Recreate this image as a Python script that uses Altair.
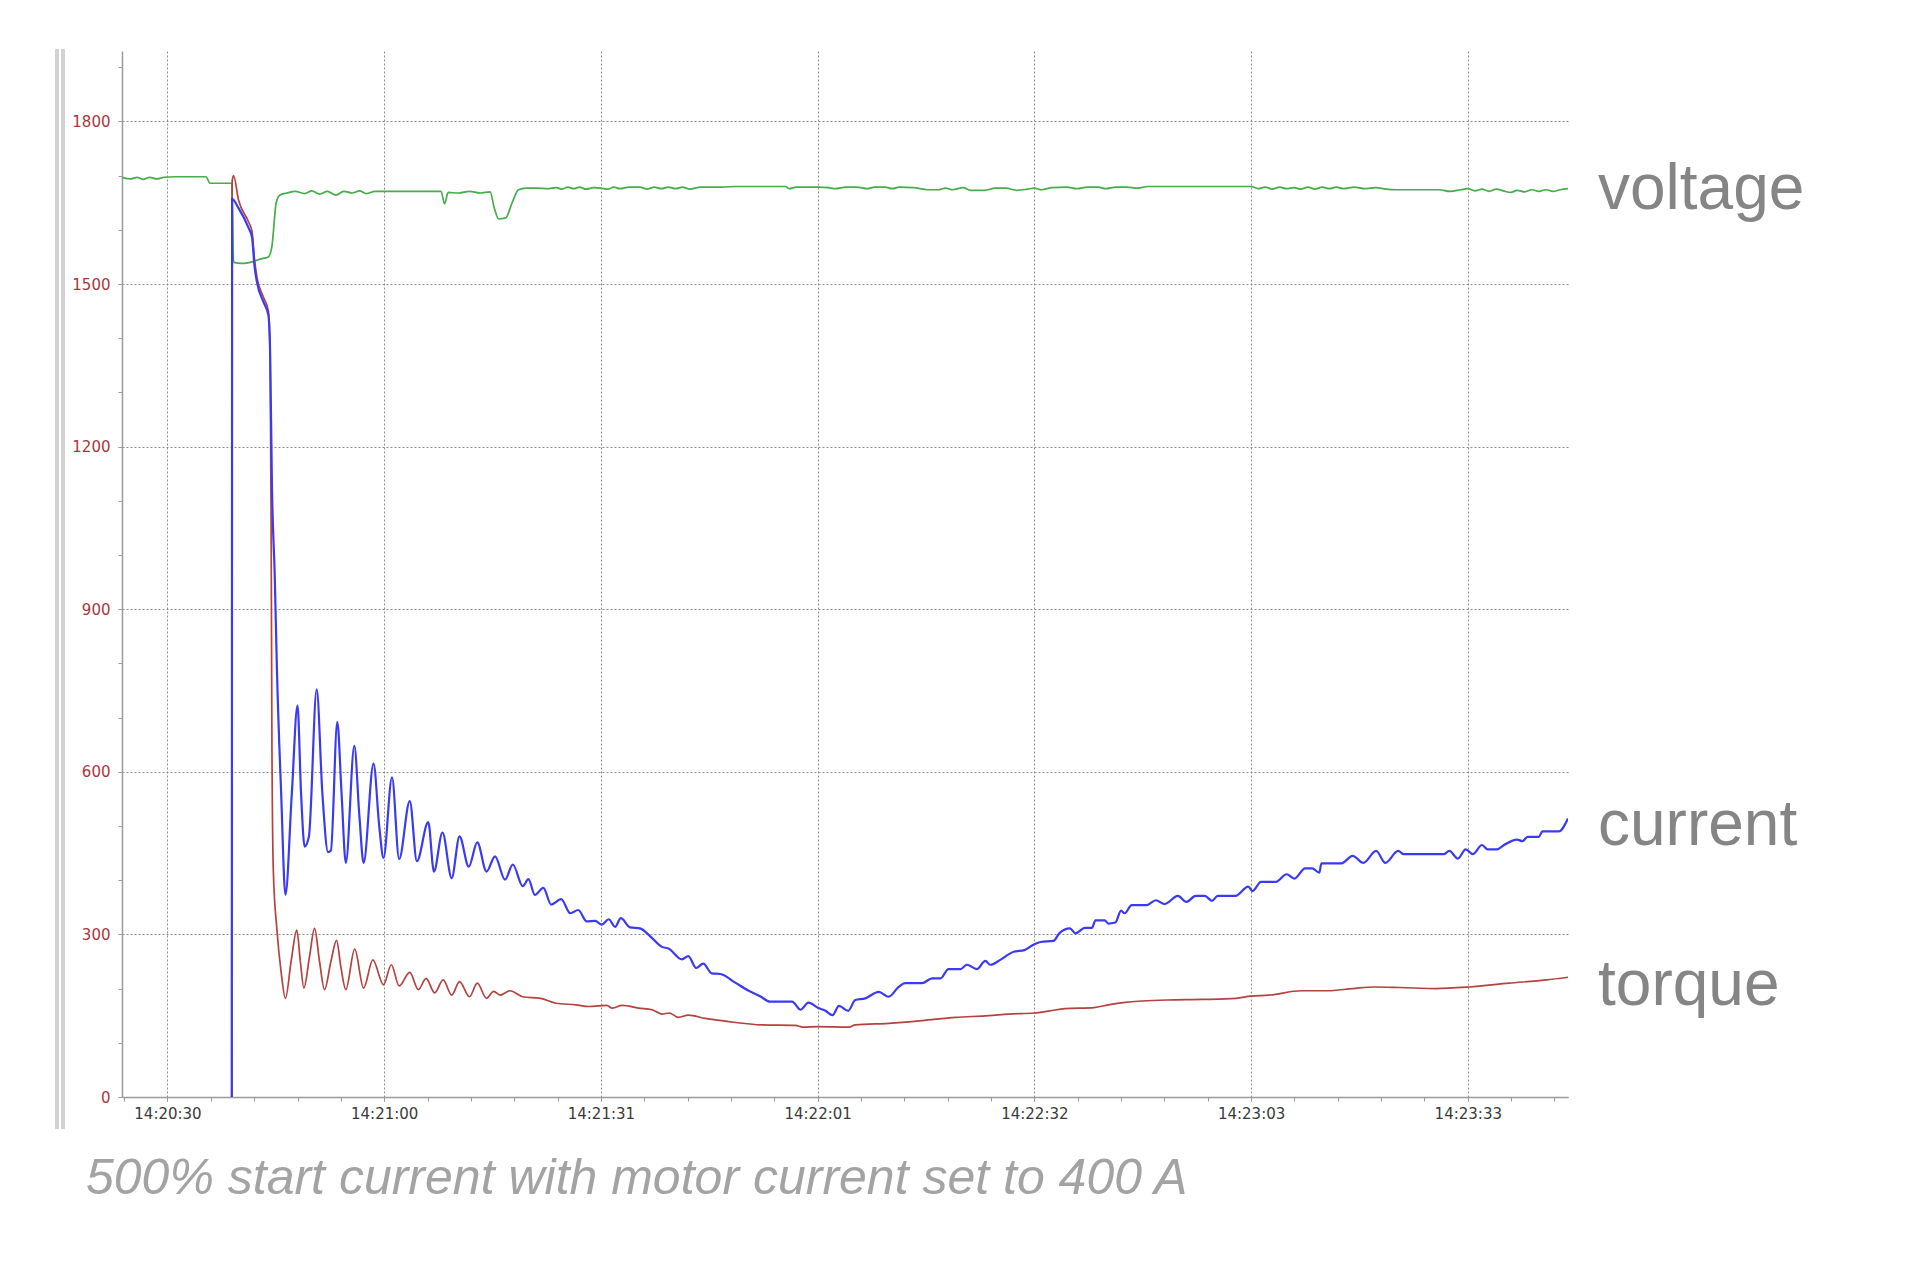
import altair as alt
import pandas as pd

# ---- data (time in seconds after 14:20:30) ----
voltage_t = [-6.4, -5.2, -4.3, -3.4, -2.5, -1.5, -0.5, 1.0, 3.0, 5.4, 6.0, 7.5, 9.05, 9.3, 10.5, 11.9, 13.3, 14.2,
             14.7, 15.3, 15.8, 16.8, 18.0, 19.3, 20.3, 21.4, 22.5, 23.7, 24.8, 26.0, 27.0, 28.0, 29.2, 30.5, 32.0,
             35.0, 38.5, 39.0, 39.5, 41.0, 42.5, 44.0, 45.4, 46.0, 46.6, 47.6, 48.5, 49.4, 50.5, 52.0, 53.5, 54.7,
             55.5, 56.3, 57.2, 58.0, 58.9, 60.0, 61.0, 62.0, 62.8, 63.7, 65.0, 66.5, 67.5, 68.5, 69.5, 70.5, 71.5,
             72.5, 73.5, 75.0, 78.0, 80.0, 84.0, 87.0, 87.5, 88.5, 91.5, 93.0, 94.0, 95.5, 97.0, 98.5, 99.5, 101.0,
             102.0, 103.0, 105.0, 107.0, 108.5, 109.5, 110.5, 112.0, 113.0, 115.0, 116.5, 118.0, 119.5, 121.0,
             122.0, 123.0, 124.5, 126.5, 128.0, 129.5, 131.0, 132.0, 133.5, 135.0, 136.5, 138.0, 145.0, 152.5,
             153.5, 154.5, 155.5, 156.5, 157.5, 158.5, 159.5, 160.5, 161.5, 162.5, 163.5, 164.5, 165.5, 167.0,
             168.5, 170.0, 171.5, 173.0, 176.0, 179.0, 180.5, 182.0, 183.0, 184.0, 185.0, 186.0, 187.0, 188.0,
             189.0, 190.0, 191.0, 192.0, 193.0, 194.0, 195.0, 196.0, 197.1]
voltage_v = [1697, 1694, 1697, 1693, 1697, 1694, 1697, 1698, 1698, 1698, 1686, 1686, 1686, 1540, 1538, 1541, 1547, 1550,
             1570, 1650, 1664, 1668, 1671, 1667, 1672, 1666, 1671, 1664, 1671, 1668, 1672, 1667, 1671, 1671, 1671,
             1671, 1671, 1648, 1669, 1668, 1671, 1668, 1670, 1640, 1620, 1622, 1650, 1674, 1677, 1677, 1676, 1678,
             1675, 1679, 1676, 1679, 1675, 1678, 1677, 1675, 1679, 1676, 1679, 1679, 1675, 1679, 1676, 1679, 1676,
             1679, 1675, 1679, 1679, 1680, 1680, 1680, 1676, 1679, 1679, 1678, 1676, 1679, 1679, 1676, 1679, 1679,
             1676, 1679, 1678, 1674, 1674, 1677, 1674, 1678, 1673, 1673, 1677, 1677, 1673, 1675,
             1677, 1674, 1678, 1679, 1676, 1679, 1679, 1676, 1679, 1679, 1677, 1680, 1680, 1680,
             1676, 1679, 1675, 1679, 1676, 1678, 1675, 1679, 1675, 1679, 1676, 1679, 1676, 1679,
             1676, 1678, 1675, 1674, 1674, 1674, 1671, 1674, 1676, 1672, 1675, 1671, 1675, 1672,
             1669, 1673, 1670, 1674, 1671, 1674, 1671, 1674, 1676]

current_t = [9.05, 9.1, 10.0, 11.4, 11.9, 12.25, 12.6, 13.5, 14.2, 14.45, 14.7, 15.1, 15.4, 16.0, 16.6,
             17.5, 18.3, 18.8, 19.3, 19.9, 21.0, 21.8, 22.6, 23.0, 23.9, 24.5, 25.1, 26.3, 27.0, 27.6, 29.0, 29.8,
             30.4, 31.6, 32.6, 34.1, 35.1, 36.7, 37.5, 38.7, 40.0, 41.1, 42.4, 43.6, 44.9, 46.1, 47.5, 48.6, 50.0,
             50.8, 51.7, 52.9, 54.0, 55.4, 56.7, 57.8, 59.0, 60.2, 61.1, 62.1, 63.0, 63.8, 65.1, 66.5, 67.9, 69.6,
             70.5, 72.4, 73.3, 74.4, 75.4, 76.6, 77.8, 79.9, 81.8, 83.4, 84.8, 87.9, 89.1, 90.2, 91.6, 92.6, 93.6,
             94.5, 95.8, 96.8, 98.2, 100.1, 101.5, 102.9, 103.8, 106.2, 107.6, 108.8, 109.9, 111.6, 112.5, 113.9,
             115.1, 115.8, 117.2, 119.1, 120.6, 122.0, 122.9, 124.7, 125.5, 127.0, 127.8, 129.1, 130.1, 130.6,
             131.9, 132.4, 133.4, 134.2, 134.7, 135.7, 137.8, 139.1, 140.3, 142.2, 143.4, 144.7, 146.0, 147.0,
             147.8, 150.3, 152.1, 152.7, 153.9, 156.0, 157.5, 158.6, 160.1, 161.1, 162.1, 162.4, 165.2, 166.8,
             168.3, 170.1, 171.4, 173.2, 174.0, 179.6, 180.4, 181.6, 182.7, 183.7, 185.0, 185.8, 187.1, 188.1,
             189.9, 190.7, 191.4, 193.0, 193.5, 195.8, 197.1]
current_v = [0, 1657, 1640, 1604, 1586, 1533, 1503, 1467, 1443, 1372, 1129, 960, 790, 560, 373,
             560, 722, 560, 462, 480, 752, 560, 452, 455, 692, 560, 432, 648, 520, 432, 615, 500,
             441, 590, 439, 546, 435, 507, 416, 488, 404, 481, 425, 470, 416, 444, 401, 429, 389,
             402, 373, 386, 355, 365, 339, 345, 324, 325, 318, 328, 314, 330, 313, 311, 297, 277,
             274, 254, 260, 238, 246, 228, 227, 211, 196, 186, 176, 176, 161, 174, 164, 159, 151,
             168, 159, 179, 182, 194, 185, 203, 210, 210, 219, 219, 236, 236, 244, 236,
             251, 244, 253, 268, 271, 282, 286, 288, 302, 311, 302, 312, 312, 326,
             326, 320, 322, 344, 339, 354, 354, 363, 356, 371, 360, 371, 371, 362,
             371, 371, 388, 380, 397, 397, 411, 403, 422, 422, 414, 431, 431, 445,
             432, 454, 432, 454, 448, 448, 454, 440, 457, 448, 465, 457, 457, 465,
             475, 472, 480, 480, 490, 490, 514]

torque_t = [9.05, 9.1, 9.3, 10.0, 11.4, 11.9, 12.25, 12.6, 13.5, 14.2, 14.45, 14.6, 14.7, 14.9, 15.4, 16.0, 16.6,
            17.4, 18.2, 18.7, 19.2, 20.0, 20.7, 21.4, 22.1, 23.0, 23.8, 24.4, 25.1, 26.35, 27.6, 28.9, 30.4,
            31.5, 32.6, 34.1, 35.3, 36.4, 37.6, 38.8, 40.0, 41.1, 42.5, 43.6, 44.9, 45.9, 46.8, 48.2, 50.0,
            52.5, 54.7, 57.5, 59.3, 61.8, 62.6, 64.0, 66.3, 68.2, 69.6, 70.6, 71.9, 73.3, 75.7, 79.0, 83.7,
            88.4, 89.4, 91.6, 95.9, 96.8, 101.5, 106.2, 110.9, 115.6, 118.4, 122.0, 124.2, 126.3, 130.4,
            132.4, 134.5, 140.6, 145.7, 150.4, 152.4, 155.0, 159.6, 163.2, 166.8, 169.8, 173.4, 178.6,
            183.2, 188.8, 194.0, 197.1]
torque_v = [0, 1690, 1700, 1655, 1615, 1597, 1545, 1512, 1476, 1450, 1366, 1010, 653, 416, 309, 230, 182,
            250, 308, 250, 201, 260, 311, 250, 198, 250, 289, 240, 198, 273, 201, 253, 207,
            244, 205, 230, 198, 219, 192, 216, 188, 213, 185, 210, 182, 195, 188, 196, 185,
            182, 173, 170, 167, 169, 164, 169, 164, 161, 153, 155, 147, 151, 145, 139, 133,
            132, 129, 130, 129, 133, 136, 141, 147, 150, 153, 155, 159, 163, 165,
            170, 174, 179, 180, 182, 186, 188, 196, 196, 200, 203, 202, 200,
            203, 210, 216, 221]

series_names = ["voltage", "current", "torque"]
series_colors = ["#45ad4a", "#3a3af2", "#b4423f"]
label_values = [1674, 500, 205]

x_tick_values = [0, 30.5, 61, 91.5, 122, 152.5, 183]
x_tick_labels = ["14:20:30", "14:21:00", "14:21:31", "14:22:01", "14:22:32", "14:23:03", "14:23:33"]
x_minor_values = [round(-6.1 + 6.1 * i, 2) for i in range(34)]
y_tick_values = [0, 300, 600, 900, 1200, 1500, 1800]
y_minor_values = list(range(0, 2000, 100))

caption = "500% start current with motor current set to 400 A"

X_DOMAIN = [-6.4, 197.1]
Y_DOMAIN = [0, 1930]

label_expr = "[" + ",".join("'%s'" % s for s in x_tick_labels) + "][indexof([" + \
    ",".join(str(v) for v in x_tick_values) + "], datum.value)]"

xs = alt.Scale(domain=X_DOMAIN, nice=False, zero=False)
ys = alt.Scale(domain=Y_DOMAIN, nice=False)

grid_kw = dict(grid=True, gridColor="#8c8c8c", gridDash=[2, 2], gridWidth=1, gridOpacity=1,
               domainColor="#9a9a9a", domainWidth=1.5, tickColor="#9a9a9a", tickSize=4, title=None)

x_major = alt.Axis(values=x_tick_values, labelExpr=label_expr, labelFont="DejaVu Sans", labelFontSize=15,
                   labelColor="#3a3a3a", labelPadding=5, orient="bottom", **grid_kw)
y_major = alt.Axis(values=y_tick_values, format="d", labelFont="DejaVu Sans", labelFontSize=15,
                   labelColor="#a8373c", labelPadding=8, orient="left", **grid_kw)

layers = []
for name, tt, vv, col, w in [("voltage", voltage_t, voltage_v, series_colors[0], 1.7),
                              ("torque", torque_t, torque_v, series_colors[2], 1.7),
                              ("current", current_t, current_v, series_colors[1], 2.2)]:
    d = pd.DataFrame({"t": tt, "v": vv})
    layers.append(
        alt.Chart(d).mark_line(color=col, strokeWidth=w, interpolate="monotone", clip=True).encode(
            x=alt.X("t:Q", scale=xs, axis=x_major if name == "voltage" else None),
            y=alt.Y("v:Q", scale=ys, axis=y_major if name == "voltage" else None),
        )
    )

ends = pd.DataFrame({"label": series_names, "t": [X_DOMAIN[1]] * 3, "v": label_values})
labels = alt.Chart(ends).mark_text(align="left", baseline="middle", dx=30, fontSize=64,
                                   font="Liberation Sans", color="#858585").encode(
    x=alt.X("t:Q", scale=xs, axis=None), y=alt.Y("v:Q", scale=ys, axis=None), text="label:N")

# minor ticks axes
minor_df = pd.DataFrame({"t": [X_DOMAIN[0]], "v": [0]})
minor = alt.Chart(minor_df).mark_point(opacity=0).encode(
    x=alt.X("t:Q", scale=xs, axis=alt.Axis(values=x_minor_values, labels=False, grid=False, domain=False,
                                           ticks=True, tickSize=4, tickColor="#9a9a9a", orient="bottom",
                                           title=None)),
    y=alt.Y("v:Q", scale=ys, axis=alt.Axis(values=y_minor_values, labels=False, grid=False, domain=False,
                                           ticks=True, tickSize=4, tickColor="#9a9a9a", orient="left",
                                           title=None)),
)

frame_df = pd.DataFrame({"k": [0]})
frame1 = alt.Chart(frame_df).mark_rule(color="#d2d2d2", strokeWidth=4).encode(
    x=alt.value(-65), y=alt.value(-2), y2=alt.value(1078))
frame2 = alt.Chart(frame_df).mark_rule(color="#d2d2d2", strokeWidth=4).encode(
    x=alt.value(-59), y=alt.value(-2), y2=alt.value(1078))

cap = alt.Chart(frame_df).mark_text(align="left", baseline="middle", fontSize=50, fontStyle="italic",
                                    font="Liberation Sans", color="#a3a3a3").encode(
    x=alt.value(-36), y=alt.value(1128), text=alt.value(caption))

chart = alt.layer(*layers, labels, minor, frame1, frame2, cap).resolve_axis(
    x="independent", y="independent").properties(
    width=1446, height=1046,
    padding={"left": 114, "top": 43, "right": 340, "bottom": 150},
    autosize=alt.AutoSizeParams(type="none"),
    background="white",
).configure_view(stroke=None)

chart.save("out.html", embed_options={"renderer": "svg", "actions": False})
